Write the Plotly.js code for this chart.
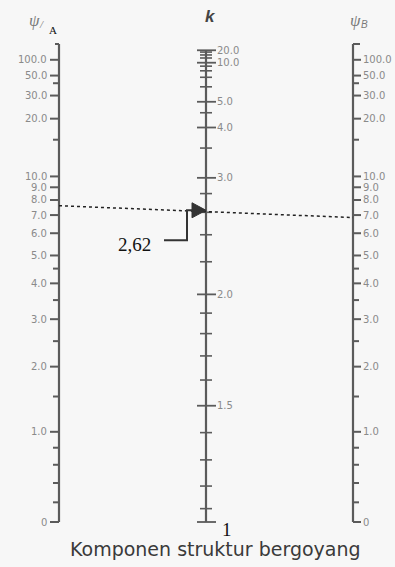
<!DOCTYPE html>
<html><head><meta charset="utf-8">
<script src="https://cdn.plot.ly/plotly-3.0.1.min.js"></script>
<style>html,body{margin:0;padding:0;background:#fff}#chart{width:395px;height:567px}</style>
</head><body><div id="chart"></div>
<script>
const psiTickValues = [0, 1, 2, 3, 4, 5, 6, 7, 8, 9, 10, 20, 30, 50, 100];
const psiTickTexts  = ["0","1.0","2.0","3.0","4.0","5.0","6.0","7.0","8.0","9.0","10.0","20.0","30.0","50.0","100.0"];
const psiMinorValues = [0.2, 0.4, 0.6, 0.8, 1.5, 2.5, 3.5, 4.5, 15, 40];
const kTickValues = [1.5, 2, 3, 4, 5, 10, 20];
const kTickTexts  = ["1.5","2.0","3.0","4.0","5.0","10.0","20.0"];
const kMinorValues = [1.1,1.2,1.3,1.4,1.6,1.7,1.8,1.9,2.2,2.4,2.6,2.8,3.5,4.5,6,7,8,9,12,14,17];
const kBottom = 1, kBottomText = "1";
const psiA = 7.6, psiB = 6.85;          // ends of the dotted reading line
const kResult = 2.62, kResultText = "2,62";
const chartTitle = "Komponen struktur bergoyang";

// ---- nomograph scales (value -> position 0..1) ----
function psiPos(g){ if(!isFinite(g)) return 1; const a = Math.pow(g, 1.05); return a/(a+4.3); }
function kPos(k){ const a = Math.pow(k-1, 1.5); return a/(a+1.1); }

// ---- layout constants ----
const W = 395, H = 567, Y0 = 522, SPAN = 478;
const xA = 59, xK = 206, xB = 353;
const px = v => v / SPAN;               // pixel height -> scale units
const axisCol = '#5b5b5b', labCol = '#8a8a8a';

function segs(vals, posFn, x1, x2){
  const xs=[], ys=[];
  vals.forEach(v => { const p = posFn(v); xs.push(x1, x2, null); ys.push(p, p, null); });
  return {xs, ys};
}
function lineTrace(xs, ys, color, width, dash){
  return {type:'scatter', mode:'lines', x:xs, y:ys, hoverinfo:'skip', showlegend:false,
          line:{color:color, width:width, dash:dash||'solid'}};
}

const traces = [];
// left psi_A scale
traces.push(lineTrace([xA,xA],[psiPos(0), psiPos(Infinity)], axisCol, 2.2));
let s = segs(psiTickValues, psiPos, xA-9, xA); traces.push(lineTrace(s.xs, s.ys, axisCol, 2));
s = segs(psiMinorValues, psiPos, xA-6, xA); traces.push(lineTrace(s.xs, s.ys, axisCol, 2));
s = segs([Infinity], psiPos, xA-4, xA); traces.push(lineTrace(s.xs, s.ys, axisCol, 2));
// right psi_B scale
traces.push(lineTrace([xB,xB],[psiPos(0), psiPos(Infinity)], axisCol, 2.2));
s = segs(psiTickValues, psiPos, xB, xB+8); traces.push(lineTrace(s.xs, s.ys, axisCol, 2));
s = segs(psiMinorValues, psiPos, xB, xB+6); traces.push(lineTrace(s.xs, s.ys, axisCol, 2));
s = segs([Infinity], psiPos, xB, xB+7); traces.push(lineTrace(s.xs, s.ys, axisCol, 2));
// middle k scale
traces.push(lineTrace([xK,xK],[kPos(kBottom), kPos(20)], axisCol, 2.2));
s = segs(kTickValues.concat([kBottom]), kPos, xK-9, xK+10); traces.push(lineTrace(s.xs, s.ys, axisCol, 1.8));
s = segs(kMinorValues, kPos, xK-6, xK+6); traces.push(lineTrace(s.xs, s.ys, axisCol, 1.6));
// dotted reading line
traces.push(lineTrace([xA, xB],[psiPos(psiA), psiPos(psiB)], '#222', 1.5, 'dot'));
// arrow + leader
const ya = kPos(kResult), yl = ya - px(30);
traces.push({type:'scatter', mode:'lines', x:[xK, xK-14, xK-14, xK], y:[ya, ya+px(7.5), ya-px(7.5), ya],
  fill:'toself', fillcolor:'#333', line:{color:'#333', width:1}, hoverinfo:'skip', showlegend:false});
traces.push(lineTrace([xK-42, xK-19, xK-19, xK-13],[yl, yl, ya, ya], '#333', 2));

// ---- annotations ----
const ann = [];
const yPaper = py => 1 - py/H;
const tickFont = {family:'DejaVu Sans', size:10, color:labCol};
psiTickValues.forEach((v,i)=>{
  ann.push({x:xA-11, y:psiPos(v), text:psiTickTexts[i], xanchor:'right', yanchor:'middle', showarrow:false,
            font:tickFont, borderpad:0});
  ann.push({x:xB+9, y:psiPos(v), text:psiTickTexts[i], xanchor:'left', yanchor:'middle', showarrow:false,
            font:tickFont, borderpad:0});
});
kTickValues.forEach((v,i)=>{
  ann.push({x:xK+10, y:kPos(v), text:kTickTexts[i], xanchor:'left', yanchor:'middle', showarrow:false,
            font:tickFont, borderpad:0});
});
ann.push({x:xK+14, y:kPos(kBottom)-px(7), text:kBottomText, xanchor:'left', yanchor:'middle', showarrow:false,
          font:{family:'Liberation Serif', size:19, color:'#111'}});
ann.push({x:xK-53, y:yl-px(4), text:kResultText, xanchor:'right', yanchor:'middle', showarrow:false,
          font:{family:'Liberation Serif', size:19, color:'#111'}});
// headers
ann.push({xref:'paper', yref:'paper', x:211/W, y:yPaper(17), text:'<b><i>k</i></b>', showarrow:false,
          xanchor:'center', yanchor:'middle', font:{family:'Liberation Sans', size:17, color:'#444'}});
ann.push({xref:'paper', yref:'paper', x:34/W, y:yPaper(20), text:'<i>ψ</i>', showarrow:false,
          xanchor:'center', yanchor:'middle', font:{family:'Liberation Serif', size:17, color:'#7a7a7a'}});
ann.push({xref:'paper', yref:'paper', x:41/W, y:yPaper(24), text:'<i>/</i>', showarrow:false,
          xanchor:'center', yanchor:'middle', font:{family:'Liberation Serif', size:11, color:'#7a7a7a'}});
ann.push({xref:'paper', yref:'paper', x:53/W, y:yPaper(30), text:'A', showarrow:false,
          xanchor:'center', yanchor:'middle', font:{family:'Liberation Serif', size:11, color:'#111'}});
ann.push({xref:'paper', yref:'paper', x:355/W, y:yPaper(20), text:'<i>ψ</i>', showarrow:false,
          xanchor:'center', yanchor:'middle', font:{family:'Liberation Serif', size:17, color:'#7a7a7a'}});
ann.push({xref:'paper', yref:'paper', x:364/W, y:yPaper(24), text:'<i>B</i>', showarrow:false,
          xanchor:'center', yanchor:'middle', font:{family:'Liberation Sans', size:10, color:'#7a7a7a'}});
ann.push({xref:'paper', yref:'paper', x:215/W, y:yPaper(549), text:chartTitle, showarrow:false,
          xanchor:'center', yanchor:'middle', font:{family:'DejaVu Sans', size:19, color:'#3a3a3a'}});

const layout = {
  width:W, height:H, margin:{l:0,r:0,t:0,b:0},
  paper_bgcolor:'#f7f7f7', plot_bgcolor:'#f7f7f7',
  xaxis:{range:[0,W], visible:false, fixedrange:true},
  yaxis:{range:[-px(H-Y0), 1+px(Y0-SPAN)], visible:false, fixedrange:true},
  annotations:ann, showlegend:false
};
Plotly.newPlot('chart', traces, layout, {staticPlot:true, displayModeBar:false});
</script></body></html>
